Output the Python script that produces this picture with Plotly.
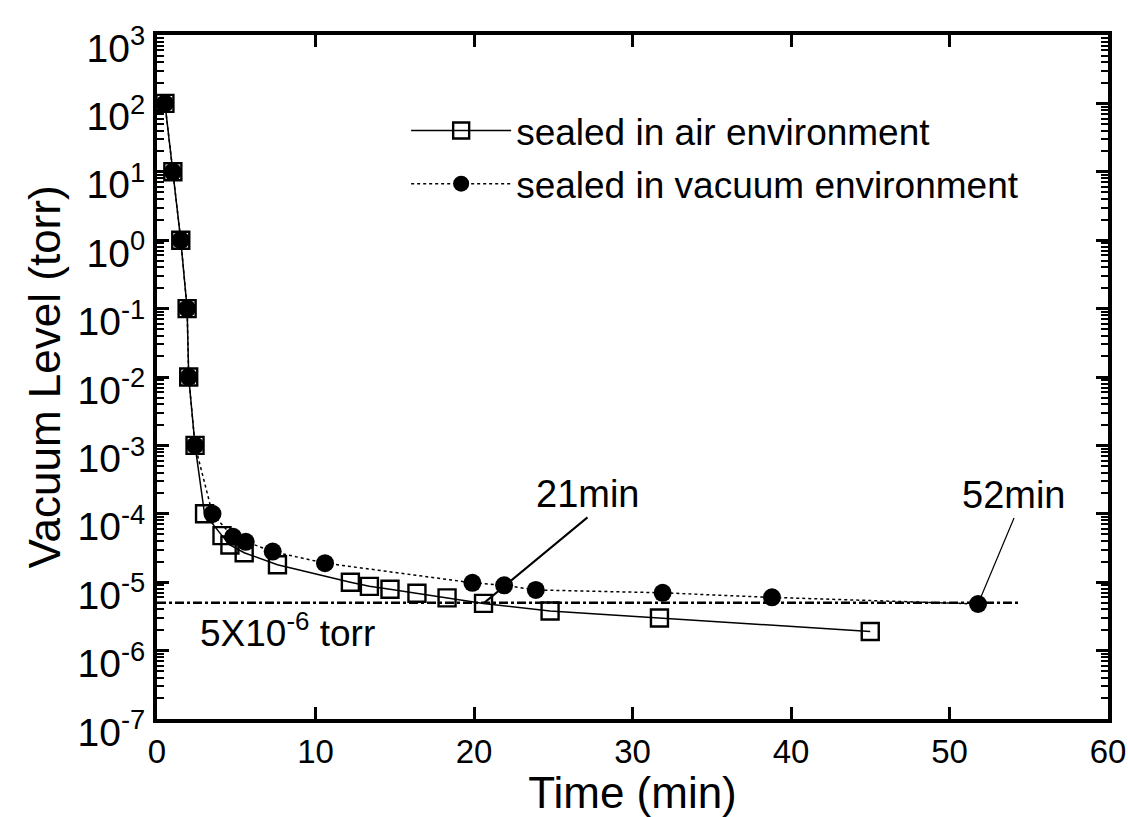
import plotly.graph_objects as go
import math

# ---- data ----
air_time = [0.5, 1.0, 1.5, 1.9, 2.0, 2.4, 3.0, 4.1, 4.6, 5.5, 7.6, 12.2, 13.4, 14.7, 16.4, 18.3, 20.6, 24.8, 31.7, 45.0]
air_vac = [1e2, 1e1, 1e0, 1e-1, 1e-2, 1e-3, 1e-4, 4.8e-5, 3.5e-5, 2.7e-5, 1.8e-5, 1.0e-5, 8.7e-6, 7.9e-6, 6.9e-6, 5.9e-6, 4.9e-6, 3.8e-6, 3.0e-6, 1.9e-6]

vac_time = [0.5, 1.0, 1.5, 1.9, 2.0, 2.4, 3.5, 4.8, 5.6, 7.3, 10.6, 19.9, 21.9, 23.9, 31.9, 38.8, 51.8]
vac_vac = [1e2, 1e1, 1e0, 1e-1, 1e-2, 1e-3, 1e-4, 4.6e-5, 3.9e-5, 2.8e-5, 1.9e-5, 9.8e-6, 9.0e-6, 7.7e-6, 7.0e-6, 6.0e-6, 4.8e-6]

threshold_time = [0, 54.5]
threshold_level = [5e-6, 5e-6]

y_tick_exp = [3, 2, 1, 0, -1, -2, -3, -4, -5, -6, -7]
y_tick_vals = [10.0 ** e for e in y_tick_exp]
y_tick_text = ["10<sup>%d</sup>" % e for e in y_tick_exp]
x_tick_vals = [0, 10, 20, 30, 40, 50, 60]

FONT = "Arial, Liberation Sans, Helvetica, sans-serif"

fig = go.Figure()

fig.add_trace(go.Scatter(
    x=threshold_time, y=threshold_level, mode="lines",
    line=dict(color="black", width=2.5, dash="dashdot"),
    showlegend=False, hoverinfo="skip"))

fig.add_trace(go.Scatter(
    x=air_time, y=air_vac, mode="lines+markers",
    name="sealed in air environment", legendgroup="a",
    line=dict(color="black", width=1.5),
    marker=dict(symbol="square-open", size=17, color="black", line=dict(width=2.4))))

fig.add_trace(go.Scatter(
    x=vac_time, y=vac_vac, mode="lines+markers",
    name="sealed in vacuum environment", legendgroup="b",
    line=dict(color="black", width=1.5, dash="dot"),
    marker=dict(symbol="circle", size=18, color="black")))

axis_common = dict(
    showline=True, linecolor="black", linewidth=4, mirror="ticks",
    ticks="inside", tickcolor="black", tickwidth=3, ticklen=12,
    showgrid=False, zeroline=False, ticklabeloverflow="allow",
    automargin=False,
)

fig.update_xaxes(
    range=[0, 60], tickvals=x_tick_vals,
    tickfont=dict(family=FONT, size=33, color="black"),
    title=dict(text="Time (min)", font=dict(family=FONT, size=44, color="black"), standoff=2),
    **axis_common)

fig.update_yaxes(
    type="log", range=[-7, 3], tickvals=y_tick_vals, ticktext=y_tick_text,
    tickfont=dict(family=FONT, size=39, color="black"), ticklabelshift=13,
    minor=dict(ticks="inside", ticklen=7, tickwidth=2, tickcolor="black", dtick="D1"),
    title=dict(text="Vacuum Level (torr)", font=dict(family=FONT, size=44, color="black"), standoff=4),
    **axis_common)

fig.add_annotation(
    x=20.6, y=math.log10(4.9e-6), xref="x", yref="y",
    text="21min", showarrow=True, arrowhead=0, arrowwidth=2, arrowcolor="black",
    ax=104, ay=-86, xanchor="center", yanchor="bottom",
    font=dict(family=FONT, size=38, color="black"))

fig.add_annotation(
    x=51.8, y=math.log10(4.8e-6), xref="x", yref="y",
    text="52min", showarrow=True, arrowhead=2, arrowsize=1, arrowwidth=1.2, arrowcolor="black",
    ax=36, ay=-86, xanchor="center", yanchor="bottom",
    font=dict(family=FONT, size=38, color="black"))

fig.add_annotation(
    x=2.6, y=math.log10(threshold_level[0]), xref="x", yref="y",
    text="5X10<sup>-6</sup> torr", showarrow=False,
    xanchor="left", yanchor="top", yshift=-2,
    font=dict(family=FONT, size=37, color="black"))

fig.update_layout(
    width=1128, height=817,
    margin=dict(l=157, r=20, t=35, b=98, autoexpand=False),
    paper_bgcolor="white", plot_bgcolor="white",
    font=dict(family=FONT, color="black"),
    legend=dict(x=0.262, y=0.905, xanchor="left", yanchor="top",
                bgcolor="rgba(0,0,0,0)", font=dict(family=FONT, size=37, color="black"),
                itemwidth=100, tracegroupgap=2),
)

fig.write_html(
    "out.html",
    config={"displayModeBar": False},
    post_script="document.body.style.margin='0';document.body.style.overflow='hidden';",
)
